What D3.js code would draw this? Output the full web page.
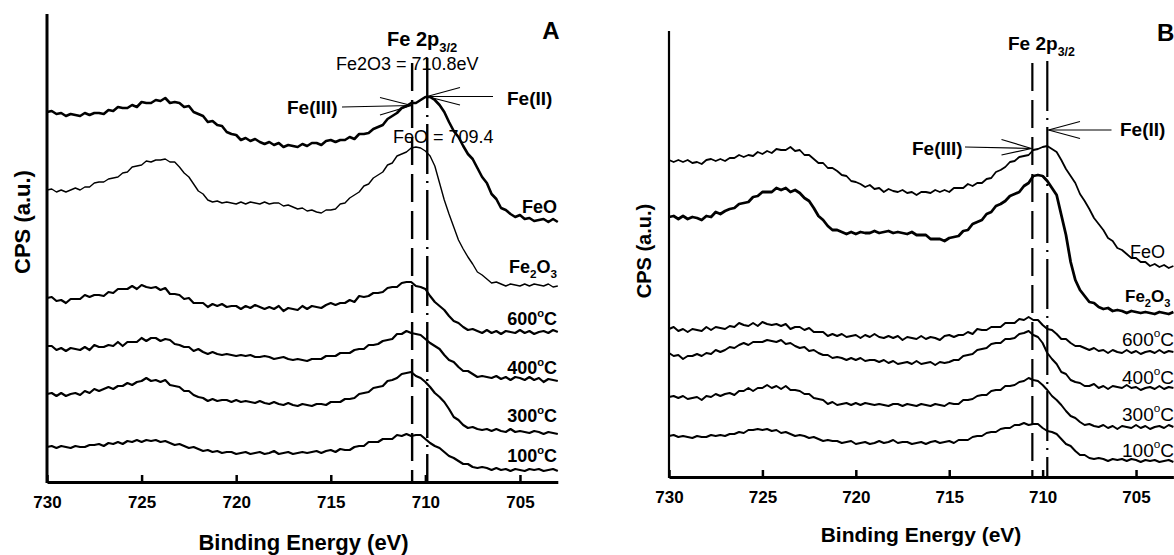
<!DOCTYPE html>
<html><head><meta charset="utf-8">
<script src="https://cdn.jsdelivr.net/npm/d3@7"></script>
<style>
body{margin:0;background:#fff}
svg{display:block}
text{font-family:"Liberation Sans",Arial,Helvetica,sans-serif;fill:#000}
</style>
</head><body>
<svg id="c" width="1174" height="555"></svg>
<script>
// Binding energy grid (eV), 0.25 eV steps from 730 to 703
const energy = d3.range(0, 109).map(i => 730 - i * 0.25);
const xTicks = [730, 725, 720, 715, 710, 705];

// ---- Panel A (CPS, arbitrary units, offset-stacked) ----
const aFeO = [370,371,368,369,366,368,367,366,369,367,369,369,368,372,371,375,374,374,377,375,380,379,379,382,381,384,379,380,379,375,376,370,368,366,360,361,357,356,350,348,347,342,344,341,343,340,338,340,337,339,335,337,336,335,338,336,339,339,337,341,342,340,342,342,345,343,348,348,349,353,355,357,363,366,369,374,376,379,379,382,385,385,382,377,370,360,351,345,336,328,323,314,305,299,288,283,274,272,268,265,267,263,264,261,262,263,260,263,260];
const aFe2O3 = [292,293,290,292,290,292,294,292,295,295,299,300,300,303,304,305,309,310,315,316,317,321,320,322,322,323,320,320,315,309,305,298,291,288,282,280,281,279,280,279,278,280,278,280,279,278,280,278,279,279,276,277,275,273,274,271,272,270,269,272,272,273,278,279,284,287,290,296,298,304,307,310,317,319,326,328,330,334,335,334,331,326,316,299,282,268,255,242,233,225,218,210,207,203,199,200,198,196,198,197,196,198,196,198,197,196,198,195,196];
const a600 = [184,185,181,182,179,183,183,183,187,185,187,187,186,190,189,193,193,193,196,193,197,195,194,195,192,194,188,188,187,183,184,179,179,179,175,178,176,178,175,176,176,173,176,174,177,175,173,175,173,176,171,174,173,172,176,173,176,175,174,177,179,177,179,179,182,180,186,185,186,189,189,190,194,195,195,199,200,200,196,195,193,186,180,176,172,166,161,159,155,152,153,151,149,152,149,151,148,151,150,149,152,149,151,148,150,151,149,152,150];
const a400 = [136,136,132,134,131,134,133,132,135,132,137,135,135,137,136,140,136,140,140,140,144,141,144,144,141,143,142,138,137,135,135,131,133,130,128,130,128,127,128,127,126,127,126,127,125,125,126,125,123,124,125,123,122,123,122,121,123,123,123,126,126,126,129,129,129,132,133,133,137,137,138,141,142,143,148,148,151,149,148,147,143,139,136,133,127,122,120,115,111,111,108,105,106,105,104,106,103,105,102,105,104,102,105,102,104,100,103,102,101];
const a300 = [88,89,86,89,86,88,89,87,91,89,93,91,93,95,93,96,96,99,97,100,101,104,101,102,100,102,97,96,95,91,91,87,85,84,81,83,81,82,82,80,82,80,81,80,79,81,79,78,80,78,77,79,77,76,78,77,76,78,78,77,80,80,80,83,83,84,88,89,90,94,95,96,101,102,104,108,109,110,106,104,100,95,89,85,80,73,65,62,57,54,55,53,52,53,51,53,51,50,53,50,51,50,49,51,50,48,50,49,48];
const a100 = [35,36,34,36,35,34,36,35,35,37,37,38,36,39,38,40,38,41,40,42,40,42,41,42,40,41,39,37,38,36,34,35,33,31,32,30,31,29,30,30,28,29,30,28,29,30,28,29,31,28,29,30,28,29,30,29,30,31,29,31,32,30,33,32,32,35,36,36,40,40,40,43,43,43,47,46,48,46,47,47,43,39,36,34,30,26,24,21,18,18,15,14,15,14,12,14,12,13,11,13,12,11,13,12,13,11,12,13,11];

// ---- Panel B ----
const bFeO = [317,315,317,315,317,314,315,313,317,318,316,318,316,319,319,322,320,322,321,325,323,326,324,328,327,327,330,326,327,322,322,318,314,314,309,309,306,302,301,296,295,293,290,292,288,289,285,288,286,285,287,284,285,282,285,285,284,287,285,287,285,289,289,289,293,291,294,294,298,299,305,307,310,315,316,320,321,322,327,328,330,331,328,325,317,308,301,294,283,276,268,259,253,247,239,236,229,227,223,219,219,215,215,211,213,210,212,209,211];
const bFe2O3 = [260,261,258,261,258,260,259,257,261,260,265,263,266,268,269,273,274,275,280,281,285,285,285,289,287,289,285,287,284,279,276,269,261,257,251,247,247,245,243,245,243,245,244,244,246,244,245,246,244,245,244,243,245,242,242,242,238,238,238,236,239,240,241,246,247,253,255,257,263,265,271,273,276,281,283,285,291,294,301,302,301,296,289,282,262,242,215,197,187,181,175,174,170,168,169,166,167,166,164,166,165,164,165,164,163,165,164,163,165];
const b600 = [148,150,146,148,145,148,147,146,150,147,150,149,148,151,150,154,152,151,154,151,155,153,152,153,151,153,148,150,150,147,149,145,145,145,141,143,141,143,140,141,142,139,142,140,143,140,139,141,139,141,137,140,139,138,141,138,140,139,137,141,142,140,142,142,145,143,148,147,147,150,150,150,154,154,154,158,157,160,157,157,152,148,147,143,138,138,134,131,131,129,127,129,126,127,124,127,125,124,127,124,126,123,125,126,124,127,124,126,125];
const b400 = [124,121,122,118,121,121,123,121,124,123,127,125,127,130,129,132,134,132,135,135,135,137,136,135,137,133,134,131,129,130,126,127,124,122,122,119,120,119,117,119,117,119,116,117,117,115,117,114,116,113,114,115,113,116,113,114,115,112,115,114,115,117,117,121,122,123,127,128,129,133,134,134,138,138,139,143,144,146,142,140,134,124,118,113,105,103,97,95,94,91,91,93,89,91,88,91,90,89,92,89,90,87,89,90,88,91,88,90,89];
const b300 = [80,81,79,81,78,79,80,77,81,80,83,81,83,84,82,86,86,89,86,89,89,92,89,91,88,91,87,87,86,83,83,79,78,77,73,75,72,73,74,72,74,72,74,73,72,73,72,71,73,73,71,73,72,71,73,72,71,73,72,71,74,73,73,77,77,78,81,82,82,86,87,87,91,91,92,95,96,99,97,96,92,87,81,77,72,66,61,59,55,52,53,51,50,52,49,51,48,51,50,49,52,49,51,48,50,51,49,52,50];
const b100 = [41,42,40,41,40,39,41,40,40,42,41,42,41,43,43,45,44,47,47,48,47,48,46,47,44,45,43,41,42,41,39,40,38,36,37,36,36,34,35,36,33,34,35,33,34,36,34,35,37,34,35,35,33,34,35,33,35,36,34,35,36,34,37,37,37,40,41,41,44,45,45,48,49,49,52,52,54,52,53,53,49,46,45,43,38,33,31,26,22,22,19,18,19,18,16,18,17,18,16,18,17,15,17,16,17,15,16,17,15];

// Reference binding energies: [Fe(III) dashed, Fe(II) dash-dot]
const refA = [710.7, 709.9];
const refB = [710.55, 709.75];

const svg = d3.select('#c');

function drawPanel(p) {
  const x = d3.scaleLinear().domain([730, 703]).range(p.xr);
  const y = d3.scaleLinear().domain(p.yd).range(p.yr);
  const g = svg.append('g');
  const line = d3.line().x((d, i) => x(energy[i])).y(d => y(d));

  p.series.forEach(s => {
    g.append('path').datum(s.v)
      .attr('fill', 'none').attr('stroke', '#000')
      .attr('stroke-width', s.w).attr('stroke-linejoin', 'round')
      .attr('d', line);
  });

  // reference lines
  g.append('line').attr('x1', x(p.ref[0])).attr('x2', x(p.ref[0]))
    .attr('y1', p.refTop[0]).attr('y2', y(0))
    .attr('stroke', '#000').attr('stroke-width', p.refW).attr('stroke-dasharray', '28,9');
  g.append('line').attr('x1', x(p.ref[1])).attr('x2', x(p.ref[1]))
    .attr('y1', p.refTop[1]).attr('y2', y(0))
    .attr('stroke', '#000').attr('stroke-width', p.refW).attr('stroke-dasharray', '50,7,2,7');

  // y axis (no ticks)
  g.append('line').attr('x1', p.xr[0]).attr('x2', p.xr[0])
    .attr('y1', p.yr[1]).attr('y2', p.yr[0] + 1)
    .attr('stroke', '#000').attr('stroke-width', p.yAxisW);

  // x axis
  const ax = d3.axisBottom(x).tickValues(xTicks).tickSizeInner(-7).tickSizeOuter(0)
    .tickPadding(14).tickFormat(d3.format('d'));
  const xg = g.append('g').attr('transform', `translate(0,${p.yr[0]})`).call(ax);
  xg.select('.domain').attr('stroke', '#000').attr('stroke-width', 3);
  xg.selectAll('.tick line').attr('stroke', '#000').attr('stroke-width', 2.5);
  xg.selectAll('.tick text').attr('font-size', 17).attr('font-weight', 'bold')
    .attr('font-family', '"Liberation Sans",Arial,sans-serif').attr('fill', '#000');

  // axis titles
  g.append('text').attr('x', p.xTitle[0]).attr('y', p.xTitle[1])
    .attr('text-anchor', 'middle').attr('font-weight', 'bold').attr('font-size', p.xTitleSize)
    .text('Binding Energy (eV)');
  g.append('text').attr('transform', `translate(${p.yTitle[0]},${p.yTitle[1]}) rotate(-90)`)
    .attr('text-anchor', 'middle').attr('font-weight', 'bold').attr('font-size', p.yTitleSize)
    .text('CPS (a.u.)');
  return {g, x, y};
}

// ---------- Panel A ----------
const A = drawPanel({
  xr: [47, 557.8], yr: [482, 14], yd: [0, 468],
  series: [
    {v: aFeO, w: 2.6}, {v: aFe2O3, w: 1.4}, {v: a600, w: 2.2},
    {v: a400, w: 2.2}, {v: a300, w: 2.2}, {v: a100, w: 2.2}
  ],
  ref: refA, refTop: [63, 58], refW: 2.4, yAxisW: 3,
  xTitle: [303.5, 550], xTitleSize: 22,
  yTitle: [30, 222], yTitleSize: 22
});

// ---------- Panel B ----------
const B = drawPanel({
  xr: [669, 1173.4], yr: [477, 31], yd: [0, 446],
  series: [
    {v: bFeO, w: 1.8}, {v: bFe2O3, w: 2.8}, {v: b600, w: 2.0},
    {v: b400, w: 2.0}, {v: b300, w: 2.0}, {v: b100, w: 2.0}
  ],
  ref: refB, refTop: [63, 61], refW: 2.2, yAxisW: 2.2,
  xTitle: [921, 542], xTitleSize: 21,
  yTitle: [651, 251], yTitleSize: 20
});

// ---------- Annotations ----------
function txt(g, x, y, s, size, bold, anchor) {
  return g.append('text').attr('x', x).attr('y', y).attr('font-size', size)
    .attr('font-weight', bold ? 'bold' : 'normal').attr('text-anchor', anchor || 'start').text(s);
}
function tempLabel(g, x, y, t, size, bold, anchor) {
  const el = g.append('text').attr('x', x).attr('y', y).attr('font-size', size)
    .attr('font-weight', bold ? 'bold' : 'normal').attr('text-anchor', anchor || 'start');
  el.append('tspan').text(t);
  el.append('tspan').attr('font-size', size * 0.62).attr('dy', -size * 0.45).text('o');
  el.append('tspan').attr('dy', size * 0.45).text('C');
  return el;
}
function fe2o3Label(g, x, y, size, bold, anchor) {
  const el = g.append('text').attr('x', x).attr('y', y).attr('font-size', size)
    .attr('font-weight', bold ? 'bold' : 'normal').attr('text-anchor', anchor || 'start');
  el.append('tspan').text('Fe');
  el.append('tspan').attr('font-size', size * 0.65).attr('dy', size * 0.28).text('2');
  el.append('tspan').attr('dy', -size * 0.28).text('O');
  el.append('tspan').attr('font-size', size * 0.65).attr('dy', size * 0.28).text('3');
  return el;
}
function fe2p(g, x, y, size) {
  const el = g.append('text').attr('x', x).attr('y', y).attr('font-size', size).attr('font-weight', 'bold');
  el.append('tspan').text('Fe 2p');
  el.append('tspan').attr('font-size', size * 0.65).attr('dy', size * 0.3).text('3/2');
  return el;
}
function seg(g, x1, y1, x2, y2, w) {
  g.append('line').attr('x1', x1).attr('y1', y1).attr('x2', x2).attr('y2', y2)
    .attr('stroke', '#000').attr('stroke-width', w || 1.2);
}
function arrow(g, xs, ys, xt, yt, bx, by1, by2) {
  seg(g, xs, ys, xt, yt);
  seg(g, bx, by1, xt, yt);
  seg(g, bx, by2, xt, yt);
}

// Panel A labels
const ga = A.g;
txt(ga, 551, 39, 'A', 24, true, 'middle');
fe2p(ga, 387, 46, 20);
txt(ga, 336, 70, 'Fe2O3 = 710.8eV', 18, false);
txt(ga, 393, 143, 'FeO = 709.4', 18, false);
txt(ga, 287, 114, 'Fe(III)', 19, true);
txt(ga, 507, 105, 'Fe(II)', 19, true);
arrow(ga, 342, 107, 411.5, 105.5, 380, 97.5, 115);
arrow(ga, 493, 96.5, 427, 96.5, 460, 87.5, 105);
txt(ga, 557, 213, 'FeO', 18, true, 'end');
fe2o3Label(ga, 557, 273, 18, true, 'end');
tempLabel(ga, 557, 325, '600', 18, true, 'end');
tempLabel(ga, 557, 374, '400', 18, true, 'end');
tempLabel(ga, 557, 422, '300', 18, true, 'end');
tempLabel(ga, 557, 462, '100', 18, true, 'end');

// Panel B labels
const gb = B.g;
txt(gb, 1157, 41, 'B', 24, true);
fe2p(gb, 1008, 50, 19);
txt(gb, 912, 155, 'Fe(III)', 19, true);
txt(gb, 1120, 136, 'Fe(II)', 19, true);
arrow(gb, 965, 147, 1031.5, 148.5, 1001.5, 139.5, 155);
arrow(gb, 1111.5, 130, 1048.5, 130, 1080, 121.5, 138.5);
txt(gb, 1130, 258, 'FeO', 18, false);
fe2o3Label(gb, 1125, 302, 17, true);
tempLabel(gb, 1122, 346, '600', 19, false);
tempLabel(gb, 1122, 384, '400', 19, false);
tempLabel(gb, 1122, 421, '300', 19, false);
tempLabel(gb, 1122, 457, '100', 19, false);
</script>
</body></html>
